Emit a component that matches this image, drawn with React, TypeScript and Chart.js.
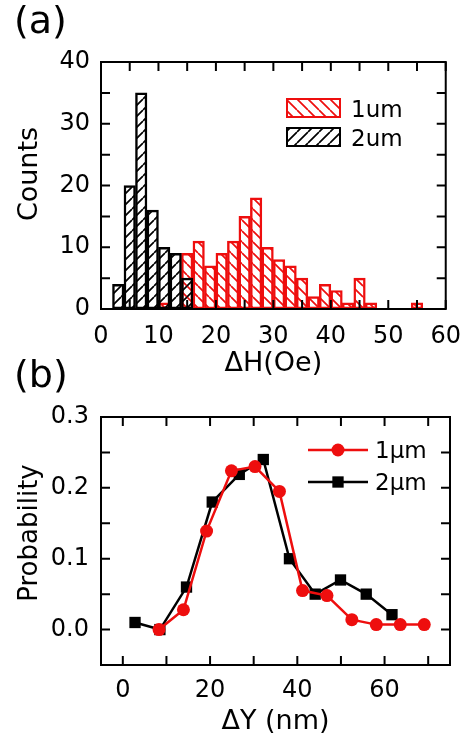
import React, { useEffect, useRef } from 'react';
import { Chart, registerables } from 'chart.js';

Chart.register(...registerables);

const FONT = "'DejaVu Sans', 'Liberation Sans', sans-serif";
const RED = '#ee0e0e';
const BLACK = '#000000';

// ---------- Panel (a): histogram of ΔH ----------
const binCenters1um = [11, 13, 15, 17, 19, 21, 23, 25, 27, 29, 31, 33, 35, 37, 39, 41, 43, 45, 47, 49, 51, 53, 55];
const counts1um = [1, 0, 9, 11, 7, 9, 11, 15, 18, 10, 8, 7, 5, 2, 4, 3, 1, 5, 1, 0, 0, 0, 1];
const binCenters2um = [3, 5, 7, 9, 11, 13, 15];
const counts2um = [4, 20, 35, 16, 10, 9, 5];
const aXMajor = [0, 10, 20, 30, 40, 50, 60];
const aXMinor = [5, 15, 25, 35, 45, 55];
const aYMajor = [0, 10, 20, 30, 40];
const aYMinor = [5, 15, 25, 35];

// ---------- Panel (b): probability of ΔY ----------
const dY1um = [8.3, 13.9, 19.2, 24.9, 30.3, 35.9, 41.2, 46.8, 52.5, 58.1, 63.6, 69.1];
const prob1um = [0.0, 0.028, 0.139, 0.224, 0.23, 0.195, 0.055, 0.048, 0.014, 0.007, 0.007, 0.007];
const dY2um = [2.8, 8.5, 14.6, 20.5, 26.7, 32.2, 38.2, 44.1, 49.9, 55.8, 61.7];
const prob2um = [0.01, 0.0, 0.06, 0.18, 0.219, 0.24, 0.1, 0.05, 0.07, 0.05, 0.021];
const bXMajor = [0, 20, 40, 60];
const bXMinor = [10, 30, 50, 70];
const bYMajor = [0, 0.1, 0.2, 0.3];
const bYMinor = [0.05, 0.15, 0.25];

function hatch(color: string, dir: 'back' | 'fwd', size = 11, lw = 1.7): CanvasPattern {
  const c = document.createElement('canvas');
  c.width = size;
  c.height = size;
  const g = c.getContext('2d')!;
  g.strokeStyle = color;
  g.lineWidth = lw;
  g.beginPath();
  for (const a of [-size, 0, size]) {
    if (dir === 'back') {
      g.moveTo(a, 0);
      g.lineTo(a + size, size);
    } else {
      g.moveTo(a, size);
      g.lineTo(a + size, 0);
    }
  }
  g.stroke();
  return g.createPattern(c, 'repeat')!;
}

type Deco = {
  xTicks: number[];
  yTicks: number[];
  draw: (chart: any, ctx: CanvasRenderingContext2D) => void;
};

function decoPlugin(d: Deco) {
  return {
    id: 'deco',
    afterDraw(chart: any) {
      const { ctx, chartArea: a, scales } = chart;
      const xs = scales.x;
      const ys = scales.y;
      ctx.save();
      ctx.strokeStyle = '#000';
      ctx.lineWidth = 2;
      ctx.strokeRect(a.left, a.top, a.right - a.left, a.bottom - a.top);
      const L = 9;
      ctx.beginPath();
      d.xTicks.forEach((v) => {
        const px = xs.getPixelForValue(v);
        ctx.moveTo(px, a.bottom);
        ctx.lineTo(px, a.bottom - L);
        ctx.moveTo(px, a.top);
        ctx.lineTo(px, a.top + L);
      });
      d.yTicks.forEach((v) => {
        const py = ys.getPixelForValue(v);
        ctx.moveTo(a.left, py);
        ctx.lineTo(a.left + L, py);
        ctx.moveTo(a.right, py);
        ctx.lineTo(a.right - L, py);
      });
      ctx.stroke();
      d.draw(chart, ctx);
      ctx.restore();
    },
  };
}

function fixedTicks(values: number[]) {
  return (scale: any) => {
    scale.ticks = values.map((v) => ({ value: v }));
  };
}

const tickFont = { family: FONT, size: 24 };
const titleFont = { family: FONT, size: 27 };
const LEGEND_FONT = `23px ${FONT}`;
const TITLE_FONT = `27px ${FONT}`;

export default function App() {
  const refA = useRef<HTMLCanvasElement>(null);
  const refB = useRef<HTMLCanvasElement>(null);

  useEffect(() => {
    const redHatch = hatch(RED, 'back');
    const blackHatch = hatch(BLACK, 'fwd');

    const chartA = new Chart(refA.current!, {
      type: 'bar',
      data: {
        datasets: [
          {
            label: '2um',
            data: binCenters2um.map((x, i) => ({ x, y: counts2um[i] || null })) as any,
            backgroundColor: blackHatch as any,
            borderColor: BLACK,
            borderWidth: 1.8,
            borderSkipped: false,
          },
          {
            label: '1um',
            data: binCenters1um.map((x, i) => ({ x, y: counts1um[i] || null })) as any,
            backgroundColor: redHatch as any,
            borderColor: RED,
            borderWidth: 1.8,
            borderSkipped: false,
          },
        ],
      },
      options: {
        animation: false,
        responsive: false,
        devicePixelRatio: 1,
        layout: { padding: { left: 0, top: 62, right: 23, bottom: 360 } },
        datasets: { bar: { grouped: false, barPercentage: 1, categoryPercentage: 1 } } as any,
        plugins: { legend: { display: false }, tooltip: { enabled: false } },
        scales: {
          x: {
            type: 'linear',
            min: 0,
            max: 60,
            offset: false,
            grid: { display: false, drawTicks: false },
            border: { display: false },
            afterBuildTicks: fixedTicks(aXMajor),
            afterFit: (s: any) => { s.height = 71; },
            ticks: { font: tickFont, color: '#000', padding: 13, maxRotation: 0, minRotation: 0, autoSkip: false, callback: (v: any) => String(v) },
            title: { display: true, text: 'ΔH(Oe)', font: titleFont, color: '#000', padding: { top: 0, bottom: 0 } },
          },
          y: {
            type: 'linear',
            min: 0,
            max: 40,
            grid: { display: false, drawTicks: false },
            border: { display: false },
            afterBuildTicks: fixedTicks(aYMajor),
            afterFit: (s: any) => { s.width = 101; },
            ticks: { font: tickFont, color: '#000', padding: 11, autoSkip: false, callback: (v: any) => String(v) },
          },
        },
      } as any,
      plugins: [
        decoPlugin({
          xTicks: [...aXMajor, ...aXMinor],
          yTicks: [...aYMajor, ...aYMinor],
          draw: (chart, ctx) => {
            ctx.fillStyle = '#000';
            ctx.textAlign = 'left';
            ctx.textBaseline = 'alphabetic';
            ctx.font = `38px ${FONT}`;
            ctx.fillText('(a)', 14, 33);
            ctx.save();
            ctx.translate(37, 174);
            ctx.rotate(-Math.PI / 2);
            ctx.textAlign = 'center';
            ctx.font = TITLE_FONT;
            ctx.fillText('Counts', 0, 0);
            ctx.restore();
            // legend: 1um then 2um
            const rows = [1, 0];
            rows.forEach((di, r) => {
              const ds = chart.data.datasets[di];
              const y = 98 + r * 29;
              ctx.fillStyle = ds.backgroundColor;
              ctx.fillRect(286, y, 55, 20);
              ctx.strokeStyle = ds.borderColor;
              ctx.lineWidth = 2;
              ctx.strokeRect(287, y + 1, 53, 18);
              ctx.fillStyle = '#000';
              ctx.font = LEGEND_FONT;
              ctx.textAlign = 'left';
              ctx.fillText(ds.label, 351, y + 18.5);
            });
          },
        }),
      ],
    });

    const chartB = new Chart(refB.current!, {
      type: 'line',
      data: {
        datasets: [
          {
            label: '1μm',
            data: dY1um.map((x, i) => ({ x, y: prob1um[i] })),
            borderColor: RED,
            backgroundColor: RED,
            borderWidth: 2.5,
            pointStyle: 'circle',
            pointRadius: 6.5,
            pointBackgroundColor: RED,
            pointBorderColor: RED,
            pointBorderWidth: 0,
            tension: 0,
          },
          {
            label: '2μm',
            data: dY2um.map((x, i) => ({ x, y: prob2um[i] })),
            borderColor: BLACK,
            backgroundColor: BLACK,
            borderWidth: 2.5,
            pointStyle: 'rect',
            pointRadius: 8,
            pointBackgroundColor: BLACK,
            pointBorderColor: BLACK,
            pointBorderWidth: 0,
            tension: 0,
          },
        ],
      },
      options: {
        animation: false,
        responsive: false,
        devicePixelRatio: 1,
        layout: { padding: { left: 0, top: 417, right: 24, bottom: 0 } },
        plugins: { legend: { display: false }, tooltip: { enabled: false } },
        scales: {
          x: {
            type: 'linear',
            min: -5,
            max: 75,
            grid: { display: false, drawTicks: false },
            border: { display: false },
            afterBuildTicks: fixedTicks(bXMajor),
            afterFit: (s: any) => { s.height = 75; },
            ticks: { font: tickFont, color: '#000', padding: 11, maxRotation: 0, minRotation: 0, autoSkip: false, callback: (v: any) => String(v) },
            title: { display: true, text: 'ΔY (nm)', font: titleFont, color: '#000', padding: { top: 0, bottom: 2 } },
          },
          y: {
            type: 'linear',
            min: -0.05,
            max: 0.3,
            grid: { display: false, drawTicks: false },
            border: { display: false },
            afterBuildTicks: fixedTicks(bYMajor),
            afterFit: (s: any) => { s.width = 101; },
            ticks: { font: tickFont, color: '#000', padding: 12, autoSkip: false, callback: (v: any) => Number(v).toFixed(1) },
          },
        },
      } as any,
      plugins: [
        decoPlugin({
          xTicks: [...bXMajor, ...bXMinor],
          yTicks: [...bYMajor, ...bYMinor],
          draw: (chart, ctx) => {
            ctx.fillStyle = '#000';
            ctx.textAlign = 'left';
            ctx.textBaseline = 'alphabetic';
            ctx.font = `38px ${FONT}`;
            ctx.fillText('(b)', 14, 387);
            ctx.save();
            ctx.translate(37, 533);
            ctx.rotate(-Math.PI / 2);
            ctx.textAlign = 'center';
            ctx.font = `26px ${FONT}`;
            ctx.fillText('Probability', 0, 0);
            ctx.restore();
            chart.data.datasets.forEach((ds: any, r: number) => {
              const y = 450 + r * 32;
              ctx.strokeStyle = ds.borderColor;
              ctx.lineWidth = 2.5;
              ctx.beginPath();
              ctx.moveTo(308, y);
              ctx.lineTo(368, y);
              ctx.stroke();
              ctx.fillStyle = ds.borderColor;
              if (ds.pointStyle === 'circle') {
                ctx.beginPath();
                ctx.arc(338, y, ds.pointRadius, 0, Math.PI * 2);
                ctx.fill();
              } else {
                const h = ds.pointRadius * Math.SQRT1_2;
                ctx.fillRect(338 - h, y - h, 2 * h, 2 * h);
              }
              ctx.fillStyle = '#000';
              ctx.font = LEGEND_FONT;
              ctx.textAlign = 'left';
              ctx.fillText(ds.label, 375, y + 8);
            });
          },
        }),
      ],
    });

    return () => {
      chartA.destroy();
      chartB.destroy();
    };
  }, []);

  return (
    <div style={{ position: 'absolute', left: 0, top: 0, width: 474, height: 740, background: '#fff' }}>
      <canvas ref={refA} width={474} height={740} style={{ position: 'absolute', left: 0, top: 0 }} />
      <canvas ref={refB} width={474} height={740} style={{ position: 'absolute', left: 0, top: 0 }} />
    </div>
  );
}
